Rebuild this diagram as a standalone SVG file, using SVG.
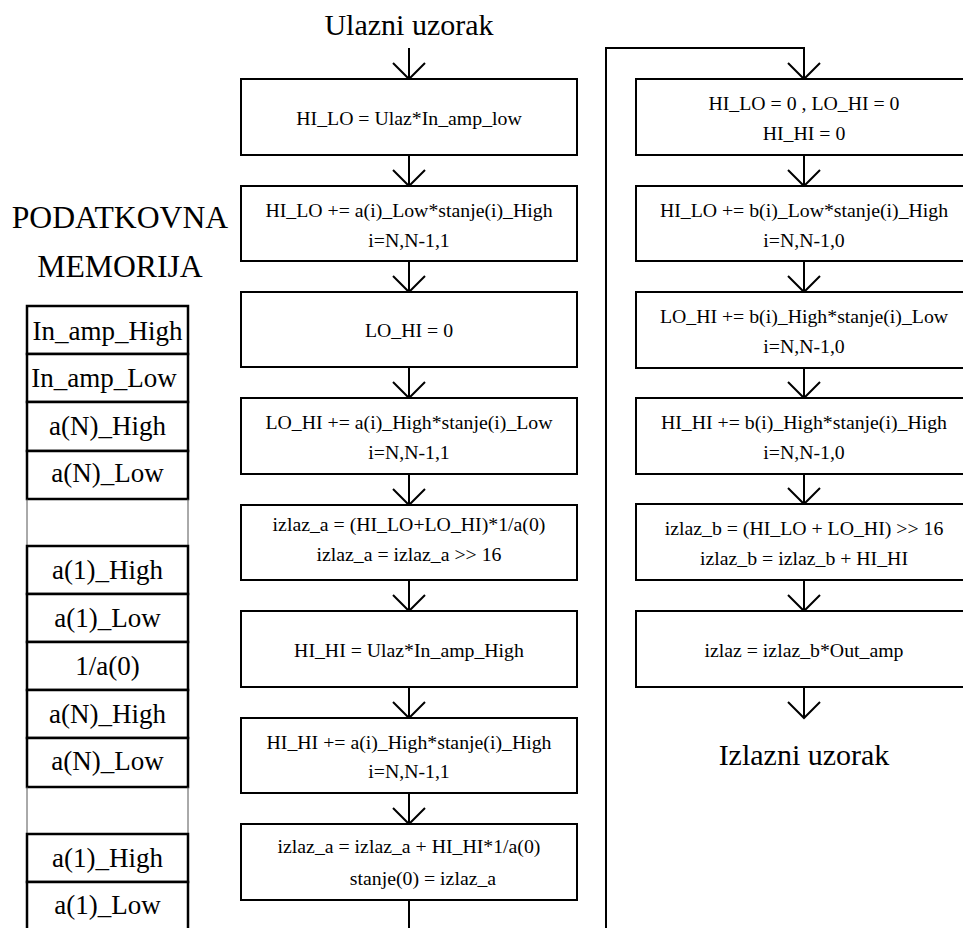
<svg xmlns="http://www.w3.org/2000/svg" width="963" height="928" viewBox="0 0 963 928">
<style>
.box{fill:#fff;stroke:#000;stroke-width:2}
.mem{fill:#fff;stroke:#000;stroke-width:2.5}
.gap{fill:none;stroke:#555;stroke-width:1}
.t{font-family:"Liberation Serif","Times New Roman",serif;font-size:19.8px;text-anchor:middle;fill:#000}
.m{font-family:"Liberation Serif","Times New Roman",serif;font-size:27px;text-anchor:middle;fill:#000}
.big{font-family:"Liberation Serif","Times New Roman",serif;font-size:30px;text-anchor:middle;fill:#000}
.title{font-family:"Liberation Serif","Times New Roman",serif;font-size:31.7px;text-anchor:middle;fill:#000}
.c{fill:none;stroke:#000;stroke-width:2}
</style>
<defs>
<marker id="chev" markerUnits="userSpaceOnUse" viewBox="-20 -20 40 40" markerWidth="40" markerHeight="40" refX="0" refY="0" orient="auto">
<path d="M-16,-16 L0,0 L-16,16" fill="none" stroke="#000" stroke-width="2"/>
</marker>
</defs>
<rect width="963" height="928" fill="#fff"/>

<text class="big" x="409" y="35">Ulazni uzorak</text>
<text class="big" x="804" y="765">Izlazni uzorak</text>

<g id="memory">
<text class="title" x="120" y="228">PODATKOVNA</text>
<text class="title" x="120" y="277">MEMORIJA</text>
<g id="mem1"><rect class="mem" x="27" y="306" width="161" height="48"/><text class="m" x="107.5" y="340">In_amp_High</text></g>
<g id="mem2"><rect class="mem" x="27" y="354" width="161" height="48"/><text class="m" x="104" y="386.5">In_amp_Low</text></g>
<g id="mem3"><rect class="mem" x="27" y="402" width="161" height="49"/><text class="m" x="107.5" y="435">a(N)_High</text></g>
<g id="mem4"><rect class="mem" x="27" y="451" width="161" height="48"/><text class="m" x="107.5" y="482">a(N)_Low</text></g>
<path class="gap" d="M27,499 V546 M188,499 V546"/>
<g id="mem5"><rect class="mem" x="27" y="546" width="161" height="48"/><text class="m" x="107.5" y="578.5">a(1)_High</text></g>
<g id="mem6"><rect class="mem" x="27" y="594" width="161" height="48"/><text class="m" x="107.5" y="626.5">a(1)_Low</text></g>
<g id="mem7"><rect class="mem" x="27" y="642" width="161" height="48"/><text class="m" x="107.5" y="675">1/a(0)</text></g>
<g id="mem8"><rect class="mem" x="27" y="690" width="161" height="48"/><text class="m" x="107.5" y="723">a(N)_High</text></g>
<g id="mem9"><rect class="mem" x="27" y="738" width="161" height="49"/><text class="m" x="107.5" y="770">a(N)_Low</text></g>
<path class="gap" d="M27,787 V834 M188,787 V834"/>
<g id="mem10"><rect class="mem" x="27" y="834" width="161" height="48"/><text class="m" x="107.5" y="866.5">a(1)_High</text></g>
<g id="mem11"><rect class="mem" x="27" y="882" width="161" height="60"/><text class="m" x="107.5" y="913.5">a(1)_Low</text></g>
</g>

<g id="connectors">
<line class="c" x1="409" y1="48" x2="409" y2="79" marker-end="url(#chev)"/>
<line class="c" x1="409" y1="155" x2="409" y2="186" marker-end="url(#chev)"/>
<line class="c" x1="409" y1="261" x2="409" y2="292" marker-end="url(#chev)"/>
<line class="c" x1="409" y1="367" x2="409" y2="398" marker-end="url(#chev)"/>
<line class="c" x1="409" y1="474" x2="409" y2="505" marker-end="url(#chev)"/>
<line class="c" x1="409" y1="580" x2="409" y2="611" marker-end="url(#chev)"/>
<line class="c" x1="409" y1="687" x2="409" y2="718" marker-end="url(#chev)"/>
<line class="c" x1="409" y1="793" x2="409" y2="824" marker-end="url(#chev)"/>
<path class="c" d="M409,900 V945 H606 V48 H804 V79" marker-end="url(#chev)"/>
<line class="c" x1="804" y1="155" x2="804" y2="186" marker-end="url(#chev)"/>
<line class="c" x1="804" y1="261" x2="804" y2="292" marker-end="url(#chev)"/>
<line class="c" x1="804" y1="368" x2="804" y2="398" marker-end="url(#chev)"/>
<line class="c" x1="804" y1="474" x2="804" y2="504" marker-end="url(#chev)"/>
<line class="c" x1="804" y1="580" x2="804" y2="611" marker-end="url(#chev)"/>
<line class="c" x1="804" y1="687" x2="804" y2="718" marker-end="url(#chev)"/>
</g>

<g id="a1"><rect class="box" x="241" y="79" width="336" height="76"/><text class="t" x="409" y="125">HI_LO = Ulaz*In_amp_low</text></g>
<g id="a2"><rect class="box" x="241" y="186" width="336" height="75"/><text class="t" x="409" y="216.5">HI_LO += a(i)_Low*stanje(i)_High</text><text class="t" x="409" y="246.5">i=N,N-1,1</text></g>
<g id="a3"><rect class="box" x="241" y="292" width="336" height="75"/><text class="t" x="409" y="337">LO_HI = 0</text></g>
<g id="a4"><rect class="box" x="241" y="398" width="336" height="76"/><text class="t" x="409" y="428.5">LO_HI += a(i)_High*stanje(i)_Low</text><text class="t" x="409" y="458.5">i=N,N-1,1</text></g>
<g id="a5"><rect class="box" x="241" y="505" width="336" height="75"/><text class="t" x="409" y="531">izlaz_a = (HI_LO+LO_HI)*1/a(0)</text><text class="t" x="409" y="561">izlaz_a = izlaz_a &gt;&gt; 16</text></g>
<g id="a6"><rect class="box" x="241" y="611" width="336" height="76"/><text class="t" x="409" y="657">HI_HI = Ulaz*In_amp_High</text></g>
<g id="a7"><rect class="box" x="241" y="718" width="336" height="75"/><text class="t" x="409" y="748.5">HI_HI += a(i)_High*stanje(i)_High</text><text class="t" x="409" y="777.5">i=N,N-1,1</text></g>
<g id="a8"><rect class="box" x="241" y="824" width="336" height="76"/><text class="t" x="409" y="853">izlaz_a = izlaz_a + HI_HI*1/a(0)</text><text class="t" x="423" y="885">stanje(0) = izlaz_a</text></g>

<g id="b1"><rect class="box" x="636" y="79" width="336" height="76"/><text class="t" x="804" y="109.5">HI_LO = 0 , LO_HI = 0</text><text class="t" x="804" y="139.5">HI_HI = 0</text></g>
<g id="b2"><rect class="box" x="636" y="186" width="336" height="75"/><text class="t" x="804" y="216.5">HI_LO += b(i)_Low*stanje(i)_High</text><text class="t" x="804" y="246.5">i=N,N-1,0</text></g>
<g id="b3"><rect class="box" x="636" y="292" width="336" height="76"/><text class="t" x="804" y="322.5">LO_HI += b(i)_High*stanje(i)_Low</text><text class="t" x="804" y="353">i=N,N-1,0</text></g>
<g id="b4"><rect class="box" x="636" y="398" width="336" height="76"/><text class="t" x="804" y="428.5">HI_HI += b(i)_High*stanje(i)_High</text><text class="t" x="804" y="458.5">i=N,N-1,0</text></g>
<g id="b5"><rect class="box" x="636" y="504" width="336" height="76"/><text class="t" x="804" y="535">izlaz_b = (HI_LO + LO_HI) &gt;&gt; 16</text><text class="t" x="804" y="565">izlaz_b = izlaz_b + HI_HI</text></g>
<g id="b6"><rect class="box" x="636" y="611" width="336" height="76"/><text class="t" x="804" y="657">izlaz = izlaz_b*Out_amp</text></g>
</svg>
